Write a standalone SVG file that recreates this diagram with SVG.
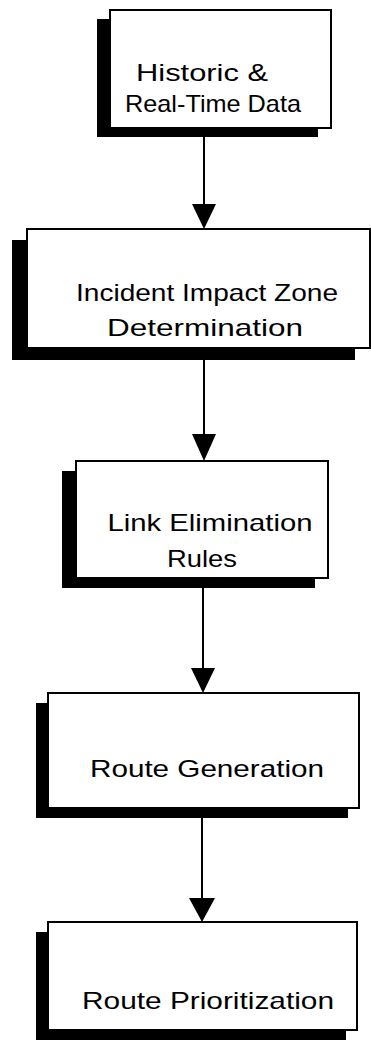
<svg xmlns="http://www.w3.org/2000/svg" width="371" height="1042" viewBox="0 0 371 1042">
  <style>
    .shadow { fill: #000; }
    .box { fill: #fff; stroke: #000; stroke-width: 2; }
    .label { font-family: "Liberation Sans", Arial, sans-serif; font-size: 24px; fill: #000; text-anchor: middle; }
    .link { stroke: #000; stroke-width: 2; fill: none; }
    .head { fill: #000; }
  </style>
  <rect width="371" height="1042" fill="#fff"/>

  <!-- connectors -->
  <g id="connectors">
    <line class="link" x1="204" y1="136" x2="204" y2="206"/>
    <polygon class="head" points="192,204 216,204 204,229"/>
    <line class="link" x1="204" y1="359" x2="204" y2="436"/>
    <polygon class="head" points="192,434 216,434 204,461"/>
    <line class="link" x1="203" y1="588" x2="203" y2="670"/>
    <polygon class="head" points="191,668 215,668 203,693"/>
    <line class="link" x1="202" y1="818" x2="202" y2="900"/>
    <polygon class="head" points="189,898 215,898 202,922"/>
  </g>

  <!-- step 1 -->
  <g id="node-data">
    <rect class="shadow" x="97" y="19" width="221" height="118"/>
    <rect class="box" x="110" y="10" width="221" height="118"/>
    <text class="label" x="202" y="81" textLength="132" lengthAdjust="spacingAndGlyphs">Historic  &amp;</text>
    <text class="label" x="213" y="112" textLength="176" lengthAdjust="spacingAndGlyphs">Real-Time Data</text>
  </g>

  <!-- step 2 -->
  <g id="node-impact-zone">
    <rect class="shadow" x="12" y="240" width="343" height="120"/>
    <rect class="box" x="27" y="229" width="343" height="119"/>
    <text class="label" x="207" y="301" textLength="262" lengthAdjust="spacingAndGlyphs">Incident Impact Zone</text>
    <text class="label" x="205" y="336" textLength="196" lengthAdjust="spacingAndGlyphs">Determination</text>
  </g>

  <!-- step 3 -->
  <g id="node-link-elimination">
    <rect class="shadow" x="62" y="471" width="253" height="117"/>
    <rect class="box" x="76" y="461" width="252" height="117"/>
    <text class="label" x="210" y="531" textLength="205" lengthAdjust="spacingAndGlyphs">Link Elimination</text>
    <text class="label" x="202" y="567" textLength="70" lengthAdjust="spacingAndGlyphs">Rules</text>
  </g>

  <!-- step 4 -->
  <g id="node-route-generation">
    <rect class="shadow" x="36" y="703" width="312" height="115"/>
    <rect class="box" x="48" y="693" width="311" height="115"/>
    <text class="label" x="207" y="777" textLength="234" lengthAdjust="spacingAndGlyphs">Route  Generation</text>
  </g>

  <!-- step 5 -->
  <g id="node-route-prioritization">
    <rect class="shadow" x="36" y="932" width="310" height="108"/>
    <rect class="box" x="48" y="922" width="309" height="108"/>
    <text class="label" x="208" y="1009" textLength="252" lengthAdjust="spacingAndGlyphs">Route  Prioritization</text>
  </g>
</svg>
